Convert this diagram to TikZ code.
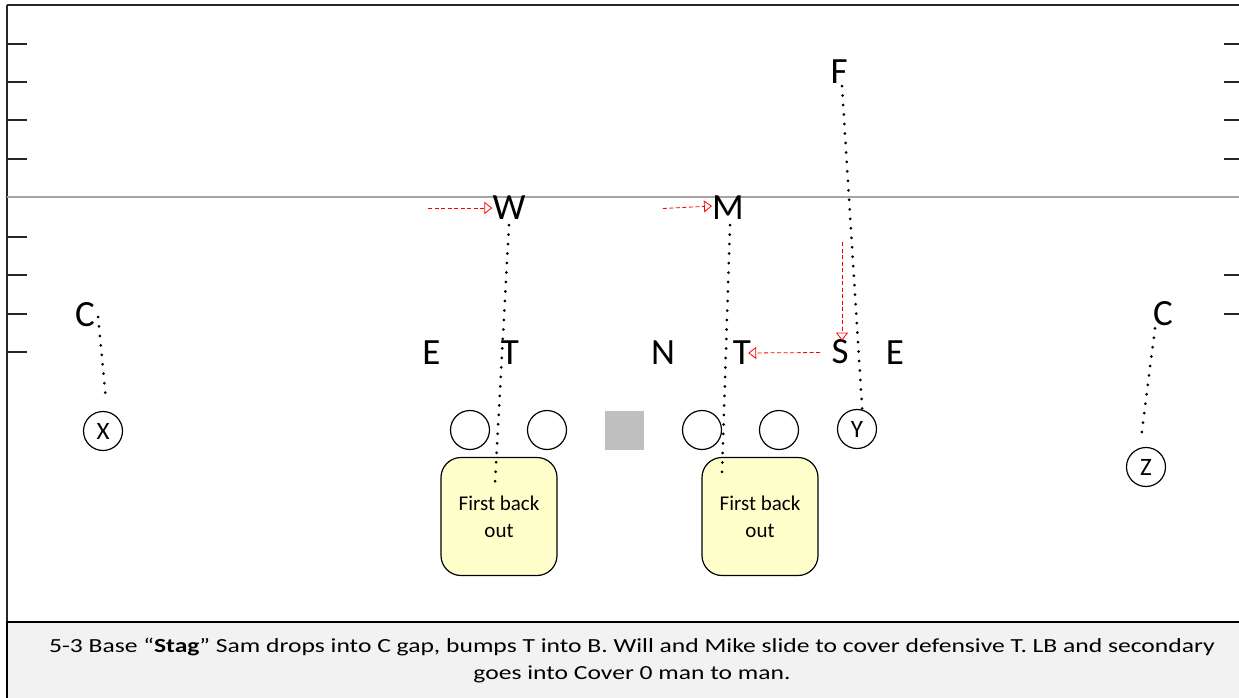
\documentclass[tikz,border=0pt]{standalone}
\usepackage{fontspec}
\usepackage{graphicx}
\setmainfont{Carlito}
\usetikzlibrary{arrows.meta}
\definecolor{zonefill}{HTML}{FFFFCC}
\definecolor{capfill}{HTML}{F2F2F2}
\definecolor{yardline}{HTML}{A6A6A6}
\definecolor{centersq}{HTML}{BFBFBF}
\begin{document}
\begin{tikzpicture}[x=1pt,y=-1pt,
  lbl/.style={font=\fontsize{37}{37}\selectfont, inner sep=0pt, anchor=center},
  player/.style={circle, draw, line width=1.2pt, minimum size=39pt, inner sep=0pt, font=\fontsize{25}{25}\selectfont},
  lineman/.style={circle, draw, line width=1.2pt, minimum size=39pt, inner sep=0pt},
  route/.style={line width=3pt, dash pattern=on 0pt off 9.5pt, line cap=round},
  slide/.style={red, line width=0.8pt, dash pattern=on 4pt off 2.5pt, -{Triangle[open, length=8pt, width=12pt]}},
  zone/.style={draw, fill=zonefill, rounded corners=20pt, minimum width=116pt, minimum height=118pt, line width=1.2pt, align=center, inner sep=0pt, font=\fontsize{21}{27}\selectfont},
  tick/.style={line width=1.2pt, black!85}
]
\useasboundingbox (0,0) rectangle (1239,698);
% frame and caption area
\fill[white] (0,0) rectangle (1239,698);
\draw[line width=1.5pt, black!85] (7,5) -- (1245,5);
\draw[line width=1.5pt, black!85] (7,5) -- (7,705);
\draw[line width=1.2pt, fill=capfill] (7,622) rectangle (1245,705);
% yard line
\draw[yardline, line width=2pt] (7,197) -- (1239,197);
% hash ticks
\foreach \yy in {44,82,120,159,237,275,314,352}
  \draw[tick] (7,\yy) -- (27,\yy);
\foreach \yy in {44,82,120,159,275,314}
  \draw[tick] (1224,\yy) -- (1239,\yy);
% offense
\node[lineman] (g1) at (470,430) {};
\node[lineman] (g2) at (547,430) {};
\node[fill=centersq, minimum size=39pt, inner sep=0pt] (ctr) at (624.5,430.5) {};
\node[lineman] (g3) at (702,430) {};
\node[lineman] (g4) at (779,430) {};
\node[player] (Y) at (857,429) {Y};
\node[player] (X) at (103,431) {X};
\node[player] (Z) at (1146,467) {Z};
% zones
\node[zone] (zone1) at (499,516.5) {First back\\out};
\node[zone] (zone2) at (760,516.5) {First back\\out};
% defense
\node[lbl] (F) at (839,72) {F};
\node[lbl] (W) at (509,208) {W};
\node[lbl] (M) at (728,208) {M};
\node[lbl] (CL) at (85,315) {C};
\node[lbl] (CR) at (1163,314) {C};
\node[lbl] (EL) at (431.5,353) {E};
\node[lbl] (TL) at (510,353) {T};
\node[lbl] (N) at (663,353) {N};
\node[lbl] (TR) at (742,353) {T};
\node[lbl] (S) at (840,352) {S};
\node[lbl] (ER) at (895,353) {E};
% route end points
\coordinate (w1) at (495,483);
\coordinate (m1) at (722,473);
\coordinate (wA) at (428,208);
\coordinate (mA) at (663,208.5);
\coordinate (sA) at (842,242);
\coordinate (sB) at (820,352.5);
% dotted coverage routes
\draw[route] ([xshift=3pt,yshift=-2pt]CL.east) -- ([xshift=3pt,yshift=11pt]X.north);
\draw[route] ([yshift=-5pt]W.south) -- (w1);
\draw[route] ([xshift=2pt,yshift=-5pt]M.south) -- (m1);
\draw[route] ([xshift=3pt,yshift=-2pt]F.south) -- (Y.75);
\draw[route] ([xshift=2pt,yshift=-2pt]CR.south west) -- ([xshift=-5pt,yshift=8pt]Z.north);
% red slide arrows
\draw[slide] (wA) -- (W.west);
\draw[slide] (mA) -- ([yshift=2pt]M.west);
\draw[slide] (sA) -- ([xshift=2pt,yshift=-1pt]S.north);
\draw[slide] (sB) -- ([xshift=-3pt]TR.east);
% caption
\node[inner sep=0pt] (cap) at (632,661)
 {\scalebox{1.279}[1]{\fontsize{20}{27}\selectfont\begin{tabular}{@{}c@{}}5-3 Base “\textbf{Stag}” Sam drops into C gap, bumps T into B. Will and Mike slide to cover defensive T. LB and secondary\\goes into Cover 0 man to man.\end{tabular}}};
\end{tikzpicture}
\end{document}
